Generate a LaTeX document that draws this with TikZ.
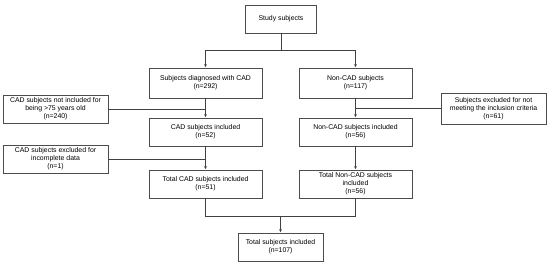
\documentclass[tikz,border=0pt]{standalone}
\usepackage{fontspec}
\setmainfont{Liberation Sans}
\usepackage{tikz}
\usetikzlibrary{arrows.meta,positioning}

\begin{document}
\begin{tikzpicture}[x=1pt,y=-1pt,>={Latex[length=3.2pt,width=2.8pt]},
  flowbox/.style={draw=black!70,line width=0.8pt,minimum width=113pt,minimum height=28pt,align=center,inner sep=1pt,font=\fontsize{6.9}{7.8}\selectfont},
  sidebox/.style={flowbox,minimum width=105pt},
  link/.style={draw=black!75,line width=0.8pt}]
\useasboundingbox (0,0) rectangle (550,265);
% main column boxes
\node[flowbox,minimum width=71pt] (study) at (281,19) {Study subjects};
\node[flowbox,minimum height=30pt] (cad) at (205.5,83) {Subjects diagnosed with CAD\\(n=292)};
\node[flowbox,minimum height=30pt] (noncad) at (355.5,83) {Non-CAD subjects\\(n=117)};
\node[flowbox] (cadinc) at (205.5,132) {CAD subjects included\\(n=52)};
\node[flowbox] (noninc) at (355.5,132) {Non-CAD subjects included\\(n=56)};
\node[flowbox] (cadtot) at (205.5,184) {Total CAD subjects included\\(n=51)};
\node[flowbox] (nontot) at (355.5,184) {Total Non-CAD subjects\\included\\(n=56)};
\node[flowbox,minimum width=85pt] (total) at (280.5,247) {Total subjects included\\(n=107)};
% exclusion boxes
\node[sidebox] (cadex) at (55.5,109) {CAD subjects not included for\\being >75 years old\\(n=240)};
\node[sidebox,minimum height=31pt] (nonex) at (493.5,108.5) {Subjects excluded for not\\meeting the inclusion criteria\\(n=61)};
\node[sidebox] (cadex2) at (55.5,159) {CAD subjects excluded for\\incomplete data\\(n=1)};
% connectors
\coordinate (split) at (281,50);
\coordinate (merge) at (280.5,216);
\draw[link] (study.south) -- (split);
\draw[link,->] (split) -| (cad.north);
\draw[link,->] (split) -| (noncad.north);
\draw[link,->] (cad.south) -- (cadinc.north);
\draw[link,->] (noncad.south) -- (noninc.north);
\draw[link] (cadex.east) -- (cadex.east -| cad.south);
\draw[link] (nonex.west) -- (nonex.west -| noncad.south);
\draw[link,->] (cadinc.south) -- (cadtot.north);
\draw[link,->] (noninc.south) -- (nontot.north);
\draw[link] (cadex2.east) -- (cadex2.east -| cadinc.south);
\draw[link] (cadtot.south) |- (merge);
\draw[link] (nontot.south) |- (merge);
\draw[link,->] (merge) -- (total.north);
\end{tikzpicture}
\end{document}
